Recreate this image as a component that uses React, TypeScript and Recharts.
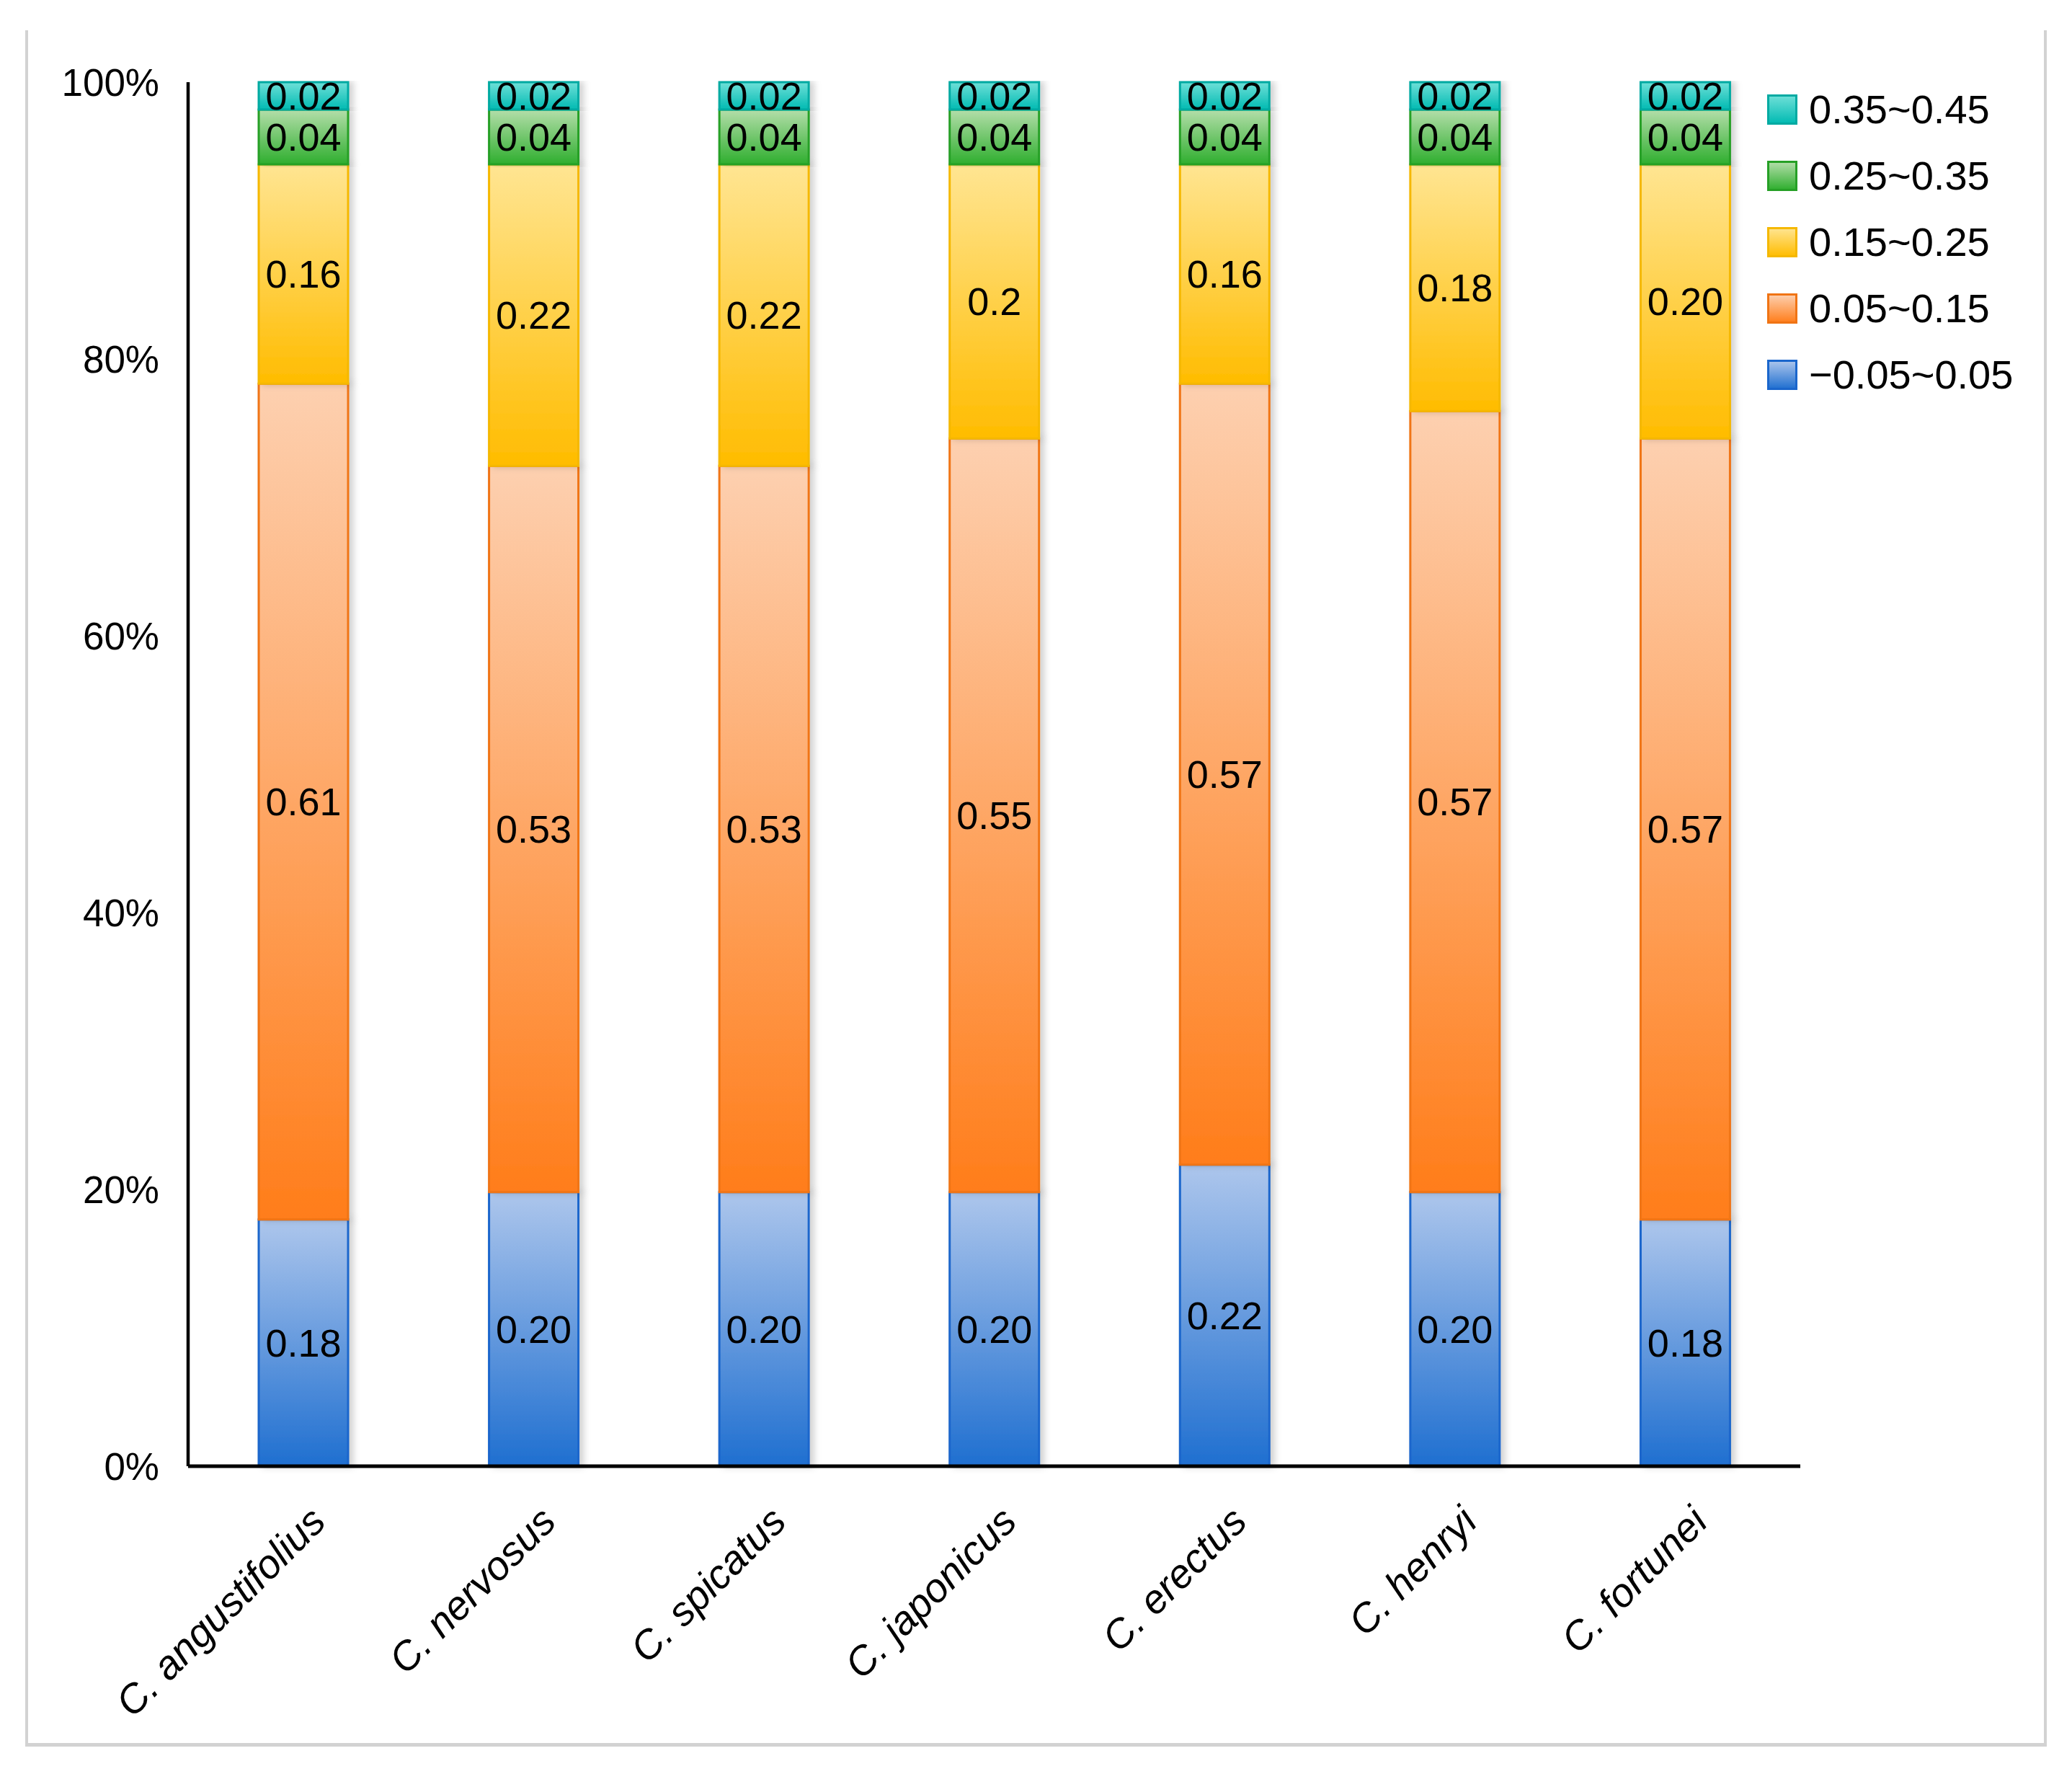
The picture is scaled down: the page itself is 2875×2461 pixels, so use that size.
import React from 'react';
import { BarChart, Bar, XAxis, YAxis, LabelList, Legend } from 'recharts';

const categories = ['C. angustifolius', 'C. nervosus', 'C. spicatus', 'C. japonicus', 'C. erectus', 'C. henryi', 'C. fortunei'];
// printed values per bin (as shown in the chart)
const binA = ['0.18', '0.20', '0.20', '0.20', '0.22', '0.20', '0.18']; // −0.05~0.05
const binB = ['0.61', '0.53', '0.53', '0.55', '0.57', '0.57', '0.57']; // 0.05~0.15
const binC = ['0.16', '0.22', '0.22', '0.2', '0.16', '0.18', '0.20']; // 0.15~0.25
const binD = ['0.04', '0.04', '0.04', '0.04', '0.04', '0.04', '0.04']; // 0.25~0.35
const binE = ['0.02', '0.02', '0.02', '0.02', '0.02', '0.02', '0.02']; // 0.35~0.45
const seriesNames = ['−0.05~0.05', '0.05~0.15', '0.15~0.25', '0.25~0.35', '0.35~0.45'];
const yTicks = [0, 0.2, 0.4, 0.6, 0.8, 1];

const bins = [binA, binB, binC, binD, binE];
const data = categories.map((name, i) => {
  const row: any = { name };
  bins.forEach((b, k) => {
    row['v' + k] = Number(b[i]);
    row['l' + k] = b[i];
  });
  return row;
});

const seriesStyle = [
  { top: '#adc6ec', bottom: '#1f6fd0', stroke: '#1a66cc' },
  { top: '#fdd0b0', bottom: '#ff7d1a', stroke: '#f07414' },
  { top: '#ffe592', bottom: '#ffbc00', stroke: '#f5b800' },
  { top: '#b4deaa', bottom: '#2eae2e', stroke: '#26a026' },
  { top: '#6fe0d8', bottom: '#00bab2', stroke: '#00aaa2' },
];

const FONT = '"Liberation Sans", Arial, sans-serif';

const XTick = (props: any) => {
  const { x, y, payload } = props;
  const ax = x + 34;
  const ay = y + 80;
  return (
    <text
      x={ax}
      y={ay}
      textAnchor="end"
      fontStyle="italic"
      fontSize={56}
      fontFamily={FONT}
      fill="#000"
      transform={`rotate(-45, ${ax}, ${ay})`}
    >
      {payload.value}
    </text>
  );
};

const LegendContent = () => {
  const order = [4, 3, 2, 1, 0];
  return (
    <div style={{ fontFamily: FONT, fontSize: 56, color: '#000' }}>
      {order.map((k) => (
        <div key={k} style={{ display: 'flex', alignItems: 'center', height: 92, lineHeight: '92px' }}>
          <svg width={42} height={42} style={{ marginRight: 16 }}>
            <defs>
              <linearGradient id={'lg' + k} x1="0" y1="0" x2="0" y2="1">
                <stop offset="0%" stopColor={seriesStyle[k].top} />
                <stop offset="100%" stopColor={seriesStyle[k].bottom} />
              </linearGradient>
            </defs>
            <rect x={1.5} y={1.5} width={39} height={39} fill={`url(#lg${k})`} stroke={seriesStyle[k].stroke} strokeWidth={3} />
          </svg>
          <span>{seriesNames[k]}</span>
        </div>
      ))}
    </div>
  );
};

export default function App() {
  return (
    <div style={{ position: 'absolute', left: 0, top: 0, width: 2875, height: 2461, background: '#fff' }}>
      <div style={{ position: 'absolute', left: 35, top: 42, width: 4, height: 2381, background: '#d2d2d2' }} />
      <div style={{ position: 'absolute', left: 2836, top: 42, width: 4, height: 2381, background: '#d2d2d2' }} />
      <div style={{ position: 'absolute', left: 35, top: 2418, width: 2805, height: 5, background: '#d2d2d2' }} />
      <BarChart
        width={2875}
        height={2461}
        data={data}
        stackOffset="expand"
        margin={{ top: 114, right: 377, left: 0, bottom: 0 }}
        barSize={124}
        style={{ position: 'absolute', left: 0, top: 0 }}
      >
        <defs>
          {seriesStyle.map((s, k) => (
            <linearGradient key={k} id={'g' + k} x1="0" y1="0" x2="0" y2="1">
              <stop offset="0%" stopColor={s.top} />
              <stop offset="100%" stopColor={s.bottom} />
            </linearGradient>
          ))}
          <filter id="shadow" x="-20%" y="-5%" width="140%" height="110%">
            <feDropShadow dx={6} dy={0} stdDeviation={5} floodColor="#000" floodOpacity={0.18} />
          </filter>
        </defs>
        <XAxis
          dataKey="name"
          height={427}
          tickLine={false}
          tickSize={0}
          tickMargin={0}
          interval={0}
          axisLine={{ stroke: '#000', strokeWidth: 5 }}
          tick={<XTick />}
        />
        <YAxis
          width={261}
          domain={[0, 1]}
          ticks={yTicks}
          tickFormatter={(v: number) => `${Math.round(v * 100)}%`}
          tickLine={false}
          tickSize={0}
          tickMargin={40}
          axisLine={{ stroke: '#000', strokeWidth: 4.5 }}
          tick={{ fontSize: 53, fill: '#000', fontFamily: FONT }}
        />
        <Legend
          layout="vertical"
          align="center"
          verticalAlign="middle"
          content={<LegendContent />}
          wrapperStyle={{ left: 2452, top: 106, width: 420, right: 'auto', bottom: 'auto' }}
        />
        {seriesStyle.map((s, k) => (
          <Bar
            key={k}
            dataKey={'v' + k}
            name={seriesNames[k]}
            stackId="a"
            fill={`url(#g${k})`}
            stroke={s.stroke}
            strokeWidth={3}
            filter="url(#shadow)"
            isAnimationActive={false}
          >
            <LabelList dataKey={'l' + k} position="center" fill="#000" fontSize={54} fontFamily={FONT} />
          </Bar>
        ))}
      </BarChart>
    </div>
  );
}
